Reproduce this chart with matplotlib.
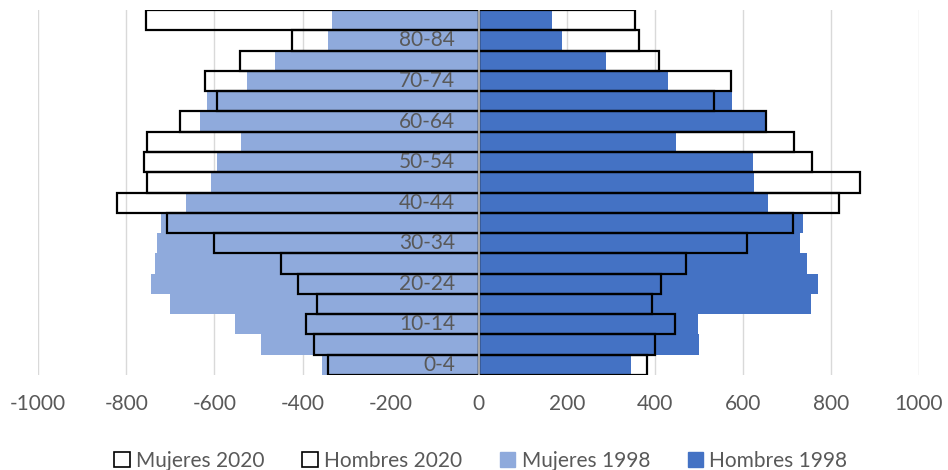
import matplotlib
matplotlib.use("Agg")
import matplotlib.pyplot as plt
from matplotlib.patches import Patch
import numpy as np

plt.rcParams['font.family'] = ['Lato', 'DejaVu Sans']

categories = ["0-4", "5-9", "10-14", "15-19", "20-24", "25-29", "30-34", "35-39",
              "40-44", "45-49", "50-54", "55-59", "60-64", "65-69", "70-74",
              "75-79", "80-84", "85+"]

mujeres_2020 = [-341, -373, -392, -366, -410, -449, -601, -708, -821, -753,
                -761, -753, -678, -594, -621, -543, -423, -755]
hombres_2020 = [382, 401, 445, 393, 413, 470, 610, 713, 819, 865,
                756, 716, 653, 535, 572, 410, 365, 356]
mujeres_1998 = [-355, -494, -553, -701, -743, -736, -731, -722, -665, -607,
                -594, -540, -632, -617, -526, -463, -341, -332]
hombres_1998 = [345, 501, 499, 754, 771, 745, 730, 737, 656, 625,
                622, 449, 653, 575, 429, 289, 190, 166]

xticks = [-1000, -800, -600, -400, -200, 0, 200, 400, 600, 800, 1000]

c_muj98 = "#8FAADC"
c_hom98 = "#4472C4"
grey_txt = "#595959"

fig = plt.figure(figsize=(9.48, 4.70), dpi=100)
ax = fig.add_axes([38.3 / 948, 1 - 375 / 470, 880.7 / 948, 365 / 470])

y = np.arange(len(categories))
ax.barh(y, mujeres_1998, height=1.0, color=c_muj98, zorder=2)
ax.barh(y, hombres_1998, height=1.0, color=c_hom98, zorder=2)
ax.barh(y, mujeres_2020, height=1.0, facecolor="none", edgecolor="black",
        linewidth=1.6, zorder=3)
ax.barh(y, hombres_2020, height=1.0, facecolor="none", edgecolor="black",
        linewidth=1.6, zorder=3)

ax.axvline(0, color="#A6A6A6", linewidth=1.5, zorder=4)

for i, cat in enumerate(categories):
    if i % 2 == 0:
        ax.annotate(cat, xy=(0, i), xytext=(-17, 0), textcoords="offset points",
                    ha="right", va="center", fontsize=15, color=grey_txt, zorder=5)

ax.set_xlim(-1000, 1000)
ax.set_ylim(-0.5, len(categories) - 0.5)
ax.set_xticks(xticks)
ax.set_xticklabels([str(v) for v in xticks])
ax.set_yticks([])
ax.tick_params(axis="x", length=0, pad=14, labelsize=15, labelcolor=grey_txt)
for s in ax.spines.values():
    s.set_visible(False)
ax.grid(axis="x", color="#D9D9D9", linewidth=1.0, zorder=0)
ax.set_axisbelow(True)

handles = [
    Patch(facecolor="white", edgecolor="black", linewidth=1.2, label="Mujeres 2020"),
    Patch(facecolor="white", edgecolor="black", linewidth=1.2, label="Hombres 2020"),
    Patch(facecolor=c_muj98, edgecolor=c_muj98, label="Mujeres 1998"),
    Patch(facecolor=c_hom98, edgecolor=c_hom98, label="Hombres 1998"),
]
leg = fig.legend(handles=handles, loc="center", bbox_to_anchor=(481 / 948, 1 - 461 / 470),
                 ncol=4, frameon=False, fontsize=15, handlelength=0.75, handleheight=0.75,
                 handletextpad=0.3, columnspacing=1.8, labelcolor=grey_txt)

fig.savefig("out.png", dpi=100)
